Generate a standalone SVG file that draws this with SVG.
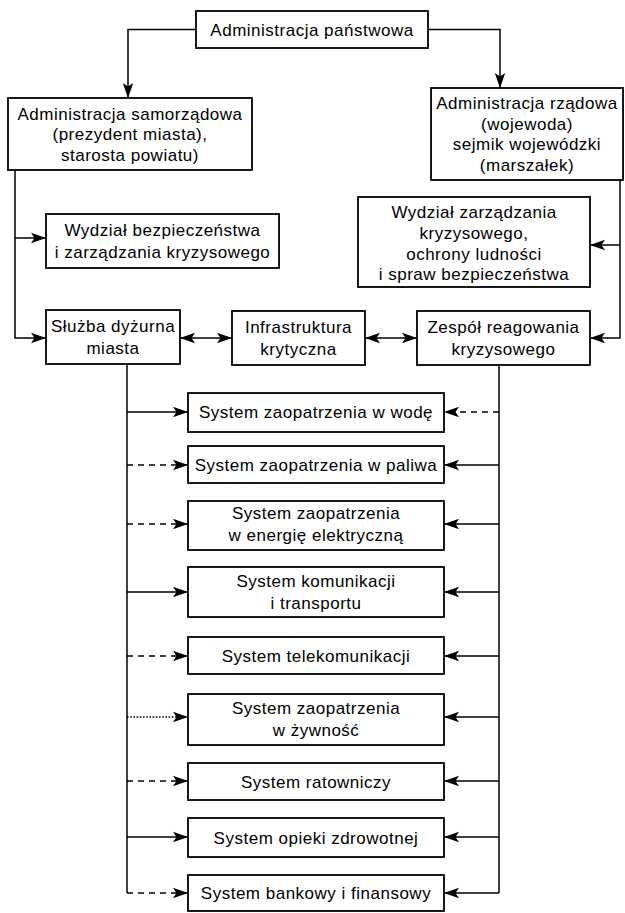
<svg xmlns="http://www.w3.org/2000/svg" width="625" height="913" viewBox="0 0 625 913">
<style>
.box{fill:#fff;stroke:#000;stroke-width:1.8}
text{font-family:"Liberation Sans",Arial,sans-serif;font-size:17px;letter-spacing:0.5px;text-anchor:middle;fill:#000}
.ln{fill:none;stroke:#000;stroke-width:1.5}
.da{stroke-dasharray:6 5}
.do{stroke-dasharray:1.6 1.6}
</style>
<defs>
<marker id="ah" markerUnits="userSpaceOnUse" markerWidth="16" markerHeight="12" refX="15" refY="6" orient="auto-start-reverse">
<path d="M0,0.8 L15,6 L0,11.2 L3.5,6 Z" fill="#000"/>
</marker>
</defs>
<rect width="625" height="913" fill="#fff"/>

<g id="connectors">
<path class="ln" d="M196,29.5 H128 V98" marker-end="url(#ah)"/>
<path class="ln" d="M428,29.5 H500 V88" marker-end="url(#ah)"/>
<path class="ln" d="M15,170 V338 H46" marker-end="url(#ah)"/>
<path class="ln" d="M15,238 H46" marker-end="url(#ah)"/>
<path class="ln" d="M620,180 V338 H590" marker-end="url(#ah)"/>
<path class="ln" d="M620,245 H590" marker-end="url(#ah)"/>
<path class="ln" d="M180,338 H232" marker-start="url(#ah)" marker-end="url(#ah)"/>
<path class="ln" d="M365,338 H417" marker-start="url(#ah)" marker-end="url(#ah)"/>
<path class="ln" d="M127,364 V893"/>
<path class="ln" d="M499,365 V893"/>
<path class="ln" d="M127,412 H188" marker-end="url(#ah)"/>
<path class="ln da" d="M499,412 H444" marker-end="url(#ah)"/>
<path class="ln da" d="M127,465 H188" marker-end="url(#ah)"/>
<path class="ln" d="M499,465 H444" marker-end="url(#ah)"/>
<path class="ln da" d="M127,524 H188" marker-end="url(#ah)"/>
<path class="ln" d="M499,524 H444" marker-end="url(#ah)"/>
<path class="ln" d="M127,592 H188" marker-end="url(#ah)"/>
<path class="ln" d="M499,592 H444" marker-end="url(#ah)"/>
<path class="ln da" d="M127,656 H188" marker-end="url(#ah)"/>
<path class="ln" d="M499,656 H444" marker-end="url(#ah)"/>
<path class="ln do" d="M127,717 H188" marker-end="url(#ah)"/>
<path class="ln" d="M499,717 H444" marker-end="url(#ah)"/>
<path class="ln da" d="M127,781 H188" marker-end="url(#ah)"/>
<path class="ln" d="M499,781 H444" marker-end="url(#ah)"/>
<path class="ln" d="M127,837 H188" marker-end="url(#ah)"/>
<path class="ln" d="M499,837 H444" marker-end="url(#ah)"/>
<path class="ln da" d="M127,893 H188" marker-end="url(#ah)"/>
<path class="ln" d="M499,893 H444" marker-end="url(#ah)"/>
</g>

<g id="n-panstwowa"><rect class="box" x="196" y="11" width="232" height="37"/><text x="312" y="35.5">Administracja państwowa</text></g>
<g id="n-samorzadowa"><rect class="box" x="8" y="98" width="244" height="72"/><text x="130" y="119.5">Administracja samorządowa</text><text x="130" y="140">(prezydent miasta),</text><text x="130" y="160.5">starosta powiatu)</text></g>
<g id="n-rzadowa"><rect class="box" x="431" y="88" width="192" height="92"/><text x="527" y="109">Administracja rządowa</text><text x="527" y="130">(wojewoda)</text><text x="527" y="150">sejmik wojewódzki</text><text x="527" y="171">(marszałek)</text></g>
<g id="n-wydzial-bezp"><rect class="box" x="46" y="214" width="233" height="54"/><text x="162.5" y="236">Wydział bezpieczeństwa</text><text x="162.5" y="258">i zarządzania kryzysowego</text></g>
<g id="n-wydzial-zarz"><rect class="box" x="358" y="197" width="232" height="90"/><text x="474" y="218">Wydział zarządzania</text><text x="474" y="239">kryzysowego,</text><text x="474" y="259.5">ochrony ludności</text><text x="474" y="280">i spraw bezpieczeństwa</text></g>
<g id="n-sluzba"><rect class="box" x="46" y="310" width="134" height="54"/><text x="113" y="332">Służba dyżurna</text><text x="113" y="354">miasta</text></g>
<g id="n-infra"><rect class="box" x="232" y="311" width="133" height="54"/><text x="298.5" y="333">Infrastruktura</text><text x="298.5" y="355">krytyczna</text></g>
<g id="n-zespol"><rect class="box" x="417" y="311" width="173" height="54"/><text x="503.5" y="333">Zespół reagowania</text><text x="503.5" y="355">kryzysowego</text></g>

<g id="s-woda"><rect class="box" x="188" y="393" width="256" height="39"/><text x="316" y="418">System zaopatrzenia w wodę</text></g>
<g id="s-paliwa"><rect class="box" x="188" y="446" width="256" height="37"/><text x="316" y="470.5">System zaopatrzenia w paliwa</text></g>
<g id="s-energia"><rect class="box" x="188" y="501" width="256" height="49"/><text x="316" y="519">System zaopatrzenia</text><text x="316" y="541">w energię elektryczną</text></g>
<g id="s-komunikacja"><rect class="box" x="188" y="567" width="256" height="50"/><text x="316" y="587">System komunikacji</text><text x="316" y="609">i transportu</text></g>
<g id="s-telekom"><rect class="box" x="188" y="637" width="256" height="37"/><text x="316" y="661.5">System telekomunikacji</text></g>
<g id="s-zywnosc"><rect class="box" x="188" y="694" width="256" height="51"/><text x="316" y="714">System zaopatrzenia</text><text x="316" y="736">w żywność</text></g>
<g id="s-ratowniczy"><rect class="box" x="188" y="763" width="256" height="37"/><text x="316" y="787.5">System ratowniczy</text></g>
<g id="s-zdrowie"><rect class="box" x="188" y="818" width="256" height="39"/><text x="316" y="843.5">System opieki zdrowotnej</text></g>
<g id="s-bank"><rect class="box" x="188" y="875" width="256" height="36"/><text x="316" y="899">System bankowy i finansowy</text></g>
</svg>
